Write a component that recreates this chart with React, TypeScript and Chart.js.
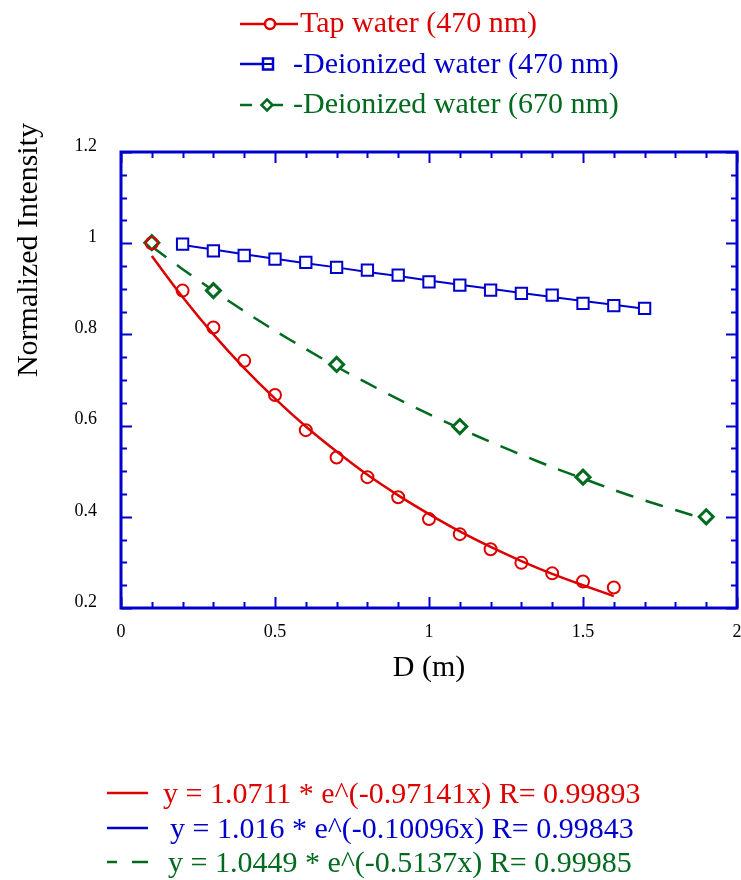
import React, { useEffect, useRef } from 'react';
import { Chart, registerables } from 'chart.js';

Chart.register(...registerables);

const RED = '#dd0000';
const BLUE = '#0000cc';
const GREEN = '#006a1e';
const AXIS = '#0000cc';
const SERIF = '"Liberation Serif", "Times New Roman", Times, serif';

// Tap water (470 nm) measured points
const tapX = [0.1, 0.2, 0.3, 0.4, 0.5, 0.6, 0.7, 0.8, 0.9, 1.0, 1.1, 1.2, 1.3, 1.4, 1.5, 1.6];
const tapY = [1.0, 0.896, 0.815, 0.742, 0.667, 0.59, 0.53, 0.487, 0.443, 0.395, 0.362, 0.329, 0.299, 0.276, 0.258, 0.245];
// Tap water fitted curve
const tapFitY = [0.972, 0.882, 0.8, 0.726, 0.659, 0.598, 0.543, 0.492, 0.447, 0.406, 0.368, 0.334, 0.303, 0.275, 0.25, 0.226];

// Deionized water (470 nm)
const di470X = [0.2, 0.3, 0.4, 0.5, 0.6, 0.7, 0.8, 0.9, 1.0, 1.1, 1.2, 1.3, 1.4, 1.5, 1.6, 1.7];
const di470Y = [0.998, 0.983, 0.973, 0.965, 0.958, 0.947, 0.941, 0.93, 0.915, 0.908, 0.897, 0.89, 0.886, 0.868, 0.863, 0.857];
const di470FitY = [0.996, 0.986, 0.976, 0.966, 0.956, 0.947, 0.937, 0.928, 0.918, 0.909, 0.9, 0.891, 0.882, 0.873, 0.865, 0.856];

// Deionized water (670 nm)
const di670X = [0.1, 0.3, 0.7, 1.1, 1.5, 1.9];
const di670Y = [1.001, 0.896, 0.734, 0.598, 0.487, 0.4];
const di670FitX = [0.1, 0.2, 0.3, 0.4, 0.5, 0.6, 0.7, 0.8, 0.9, 1.0, 1.1, 1.2, 1.3, 1.4, 1.5, 1.6, 1.7, 1.8, 1.9];
const di670FitY = [0.993, 0.943, 0.896, 0.851, 0.808, 0.768, 0.729, 0.693, 0.658, 0.625, 0.594, 0.564, 0.536, 0.509, 0.484, 0.459, 0.436, 0.415, 0.394];

// Axis tick labels
const xTickLabels = ['0', '0.5', '1', '1.5', '2'];
const xTickValues = [0, 0.5, 1, 1.5, 2];
const yTickLabels = ['0.2', '0.4', '0.6', '0.8', '1', '1.2'];
const yTickValues = [0.2, 0.4, 0.6, 0.8, 1.0, 1.2];

const legendLabels = ['Tap water (470 nm)', '-Deionized water (470 nm)', '-Deionized water (670 nm)'];
const fitLabels = [
  'y = 1.0711 * e^(-0.97141x) R= 0.99893',
  'y = 1.016 * e^(-0.10096x) R= 0.99843',
  'y = 1.0449 * e^(-0.5137x) R= 0.99985',
];

const pts = (xs: number[], ys: number[]) => xs.map((x, i) => ({ x, y: ys[i] }));
const findLabel = (vals: number[], labels: string[], v: number) => {
  const i = vals.findIndex((t) => Math.abs(t - v) < 1e-6);
  return i >= 0 ? labels[i] : '';
};

const innerTicks = {
  id: 'innerTicks',
  afterDraw(chart: any) {
    const { ctx, chartArea: a } = chart;
    const xs = chart.scales.x;
    const ys = chart.scales.y;
    ctx.save();
    ctx.strokeStyle = AXIS;
    ctx.lineWidth = 2;
    xs.ticks.forEach((t: any) => {
      const px = Math.round(xs.getPixelForValue(t.value)) + 0.5;
      const len = findLabel(xTickValues, xTickLabels, t.value) ? 11 : 6;
      ctx.beginPath();
      ctx.moveTo(px, a.bottom);
      ctx.lineTo(px, a.bottom - len);
      ctx.moveTo(px, a.top);
      ctx.lineTo(px, a.top + len);
      ctx.stroke();
    });
    ys.ticks.forEach((t: any) => {
      const py = Math.round(ys.getPixelForValue(t.value)) + 0.5;
      const len = findLabel(yTickValues, yTickLabels, t.value) ? 11 : 6;
      ctx.beginPath();
      ctx.moveTo(a.left, py);
      ctx.lineTo(a.left + len, py);
      ctx.moveTo(a.right, py);
      ctx.lineTo(a.right - len, py);
      ctx.stroke();
    });
    ctx.lineWidth = 3;
    ctx.strokeRect(a.left, a.top, a.right - a.left, a.bottom - a.top);
    ctx.restore();
  },
};

function ChartCanvas() {
  const ref = useRef<HTMLCanvasElement | null>(null);
  useEffect(() => {
    if (!ref.current) return;
    const chart = new Chart(ref.current, {
      type: 'line',
      data: {
        datasets: [
          {
            label: 'Tap water (470 nm)',
            data: pts(tapX, tapY),
            showLine: false,
            pointStyle: 'circle',
            pointRadius: 6,
            pointBorderWidth: 2,
            borderColor: RED,
            pointBorderColor: RED,
            pointBackgroundColor: 'rgba(255,255,255,0)',
            order: 0,
          },
          {
            label: 'Tap fit',
            data: pts(tapX, tapFitY),
            borderColor: RED,
            borderWidth: 2.5,
            pointRadius: 0,
            tension: 0.3,
            order: 3,
          },
          {
            label: 'Deionized water (470 nm)',
            data: pts(di470X, di470Y),
            showLine: false,
            pointStyle: 'rect',
            pointRadius: 8,
            pointBorderWidth: 2,
            borderColor: BLUE,
            pointBorderColor: BLUE,
            pointBackgroundColor: '#ffffff',
            order: 0,
          },
          {
            label: 'DI 470 fit',
            data: pts(di470X, di470FitY),
            borderColor: BLUE,
            borderWidth: 2,
            pointRadius: 0,
            order: 3,
          },
          {
            label: 'Deionized water (670 nm)',
            data: pts(di670X, di670Y),
            showLine: false,
            pointStyle: 'rectRot',
            pointRadius: 7,
            pointBorderWidth: 3,
            borderColor: GREEN,
            pointBorderColor: GREEN,
            pointBackgroundColor: '#ffffff',
            order: 0,
          },
          {
            label: 'DI 670 fit',
            data: pts(di670FitX, di670FitY),
            borderColor: GREEN,
            borderWidth: 2.5,
            borderDash: [18, 13],
            pointRadius: 0,
            tension: 0.3,
            order: 3,
          },
        ],
      },
      options: {
        responsive: false,
        animation: false,
        layout: { autoPadding: false, padding: { top: 152, right: 4, bottom: 194, left: 0 } },
        plugins: { legend: { display: false }, tooltip: { enabled: false } },
        scales: {
          x: {
            type: 'linear',
            position: 'bottom',
            min: 0,
            max: 2,
            afterFit: (s: any) => {
              s.height = 78;
              s.paddingLeft = 0;
              s.paddingRight = 0;
            },
            grid: { display: false, drawTicks: false, tickLength: 0 },
            border: { display: false },
            ticks: {
              stepSize: 0.1,
              maxTicksLimit: 100,
              autoSkip: false,
              maxRotation: 0,
              padding: 13,
              color: '#000',
              font: { family: SERIF, size: 18 },
              callback: (v: any) => findLabel(xTickValues, xTickLabels, Number(v)),
            },
            title: {
              display: true,
              text: 'D (m)',
              color: '#000',
              padding: 0,
              font: { family: SERIF, size: 30 },
            },
          },
          y: {
            type: 'linear',
            position: 'left',
            min: 0.2,
            max: 1.2,
            afterFit: (s: any) => {
              s.width = 121;
              s.paddingTop = 0;
              s.paddingBottom = 0;
            },
            grid: { display: false, drawTicks: false, tickLength: 0 },
            border: { display: false },
            ticks: {
              stepSize: 0.05,
              maxTicksLimit: 100,
              autoSkip: false,
              padding: 24,
              labelOffset: -6,
              color: '#000',
              font: { family: SERIF, size: 18 },
              callback: (v: any) => findLabel(yTickValues, yTickLabels, Number(v)),
            },
          },
        },
      },
      plugins: [innerTicks],
    } as any);
    return () => chart.destroy();
  }, []);
  return (
    <canvas
      ref={ref}
      width={741}
      height={880}
      style={{ position: 'absolute', left: 0, top: 0, width: 741, height: 880, display: 'block' }}
    />
  );
}

const textStyle = (left: number, top: number, color: string, size: number): React.CSSProperties => ({
  position: 'absolute',
  left,
  top,
  color,
  fontFamily: SERIF,
  fontSize: size,
  lineHeight: '30px',
  whiteSpace: 'nowrap',
});

export default function App() {
  useEffect(() => {
    document.body.style.margin = '0';
  }, []);
  return (
    <div style={{ position: 'absolute', left: 0, top: 0, width: 741, height: 880, overflow: 'hidden', background: '#fff' }}>
      <ChartCanvas />
      <svg width={741} height={880} style={{ position: 'absolute', left: 0, top: 0, pointerEvents: 'none' }}>
        {/* top legend symbols */}
        <line x1={240} y1={24} x2={298} y2={24} stroke={RED} strokeWidth={2.5} />
        <circle cx={270} cy={24} r={5} fill="#fff" stroke={RED} strokeWidth={2.5} />
        <line x1={240} y1={64} x2={264} y2={64} stroke={BLUE} strokeWidth={2.5} />
        <rect x={263} y={58.5} width={10} height={11} fill="#fff" stroke={BLUE} strokeWidth={2.5} />
        <line x1={263} y1={64} x2={273} y2={64} stroke={BLUE} strokeWidth={2} />
        <line x1={240} y1={105} x2={252} y2={105} stroke={GREEN} strokeWidth={2.5} />
        <polygon points="267,99.5 272.5,105 267,110.5 261.5,105" fill="#fff" stroke={GREEN} strokeWidth={2.5} />
        <line x1={273} y1={105} x2={283} y2={105} stroke={GREEN} strokeWidth={2.5} />
        {/* fit legend symbols */}
        <line x1={107} y1={793} x2={148} y2={793} stroke={RED} strokeWidth={2.5} />
        <line x1={107} y1={828} x2={148} y2={828} stroke={BLUE} strokeWidth={2.5} />
        <line x1={107} y1={862} x2={117} y2={862} stroke={GREEN} strokeWidth={2.5} />
        <line x1={132} y1={862} x2={148} y2={862} stroke={GREEN} strokeWidth={2.5} />
      </svg>
      <div style={textStyle(300, 7, RED, 30)}>{legendLabels[0]}</div>
      <div style={textStyle(293, 48, BLUE, 30)}>{legendLabels[1]}</div>
      <div style={textStyle(293, 88, GREEN, 30)}>{legendLabels[2]}</div>
      <div style={textStyle(163, 778, RED, 30)}>{fitLabels[0]}</div>
      <div style={textStyle(170, 813, BLUE, 30)}>{fitLabels[1]}</div>
      <div style={textStyle(168, 847, GREEN, 30)}>{fitLabels[2]}</div>
      <div
        style={{
          position: 'absolute',
          left: 27 - 150,
          top: 250 - 15,
          width: 300,
          height: 30,
          lineHeight: '30px',
          textAlign: 'center',
          fontFamily: SERIF,
          fontSize: 30,
          color: '#000',
          transform: 'rotate(-90deg)',
          whiteSpace: 'nowrap',
        }}
      >
        Normalized Intensity
      </div>
    </div>
  );
}
